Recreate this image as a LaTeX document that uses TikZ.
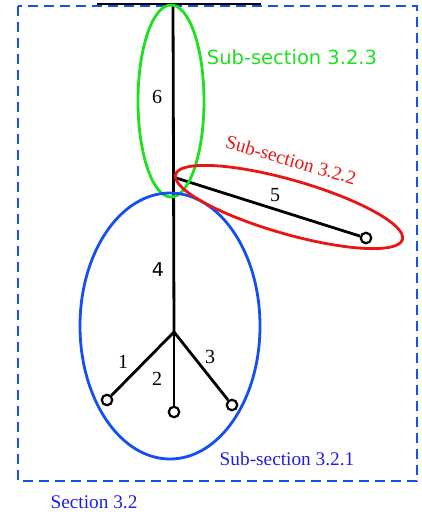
\documentclass[tikz,border=0pt]{standalone}
\usepackage{fontspec}
\setmainfont{Liberation Serif}
\newfontfamily\vsans{DejaVu Sans}
\definecolor{dblue}{RGB}{20,80,240}
\definecolor{tblue}{RGB}{30,30,230}
\definecolor{egreen}{RGB}{30,225,30}
\definecolor{ered}{RGB}{235,20,20}
\tikzset{
  wire/.style={line width=2.8pt, black},
  endpt/.style={circle, draw, line width=2.2pt, fill=white, minimum size=10.5pt, inner sep=0pt},
  lbl/.style={font=\fontsize{20}{20}\selectfont, inner sep=0pt},
  sublbl/.style={font=\fontsize{19.3}{19.3}\selectfont, inner sep=0pt},
  region/.style={line width=2.8pt}
}
\begin{document}
\begin{tikzpicture}[x=1pt,y=-1pt]
\useasboundingbox (0,0) rectangle (422,516);
% section box
\draw[dblue, region, dash pattern=on 10pt off 6pt] (18,6) rectangle (417,481);
% tree
\coordinate (barL) at (97,4);
\coordinate (barR) at (261,4);
\coordinate (top) at (173,4);
\coordinate (j5) at (173,177);
\coordinate (j) at (174,332);
\node[endpt] (e1) at (107,400) {};
\node[endpt] (e2) at (174,412) {};
\node[endpt] (e3) at (232,405) {};
\node[endpt] (e5) at (366,238) {};
\draw[wire] (barL) -- (barR);
\draw[wire] (top) -- (j);
\draw[wire] (j) -- (e1);
\draw[wire] (j) -- (e2);
\draw[wire] (j) -- (e3);
\draw[wire] (j5) -- (e5);
% edge labels
\node[lbl] (n1) at (123,362) {1};
\node[lbl] (n2) at (157,379) {2};
\node[lbl] (n3) at (210,357) {3};
\node[lbl, font=\vsans\fontsize{19}{19}\selectfont] (n4) at (158,270) {4};
\node[lbl] (n5) at (275,195) {5};
\node[lbl] (n6) at (157,97) {6};
% regions
\draw[egreen, region] (171,101) ellipse [x radius=33, y radius=96];
\draw[dblue, region] (170,326) ellipse [x radius=90, y radius=133];
\draw[ered, region, rotate around={-16:(289,207)}] (289,207) ellipse [x radius=118, y radius=27];
% region labels
\node[sublbl, egreen, font=\vsans\fontsize{19.5}{19.5}\selectfont] (g) at (292,57) {Sub-section 3.2.3};
\node[sublbl, ered, rotate=-16] (r) at (291,160) {Sub-section 3.2.2};
\node[sublbl, tblue] (b) at (287,459) {Sub-section 3.2.1};
\node[sublbl, tblue] (s) at (94,502) {Section 3.2};
\end{tikzpicture}
\end{document}
